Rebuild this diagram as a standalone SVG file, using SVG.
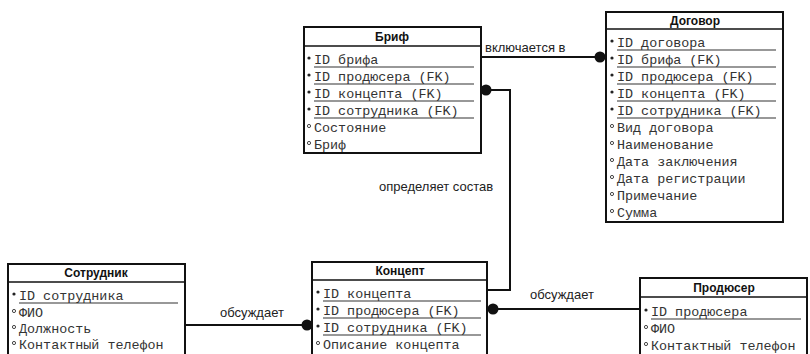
<svg xmlns="http://www.w3.org/2000/svg" width="810" height="354" viewBox="0 0 810 354">
<style>
.box{fill:#fff;stroke:#111;stroke-width:2}
.hd{stroke:#111;stroke-width:1.6}
.title{font-family:"Liberation Sans",Arial,sans-serif;font-weight:bold;font-size:12px;fill:#111;text-anchor:middle}
.row{font-family:"Liberation Mono","Courier New",monospace;font-size:13.4px;fill:#333}
.ul{stroke:#333;stroke-width:1.2}
.k{fill:#222}
.nk{fill:#fff;stroke:#333;stroke-width:0.9}
.lbl{font-family:"Liberation Sans",Arial,sans-serif;font-size:13px;fill:#222}
.ln{fill:none;stroke:#111;stroke-width:2}
.dot{fill:#111}
</style>

<g id="connectors">
  <path class="ln" d="M481,57 H606"/>
  <circle class="dot" cx="600" cy="57" r="5.5"/>
  <text class="lbl" x="485" y="52">включается в</text>

  <path class="ln" d="M481,90 H510 V290 H487"/>
  <circle class="dot" cx="486" cy="90" r="5.5"/>
  <text class="lbl" x="379" y="191">определяет состав</text>

  <path class="ln" d="M185,325 H312"/>
  <circle class="dot" cx="307" cy="325" r="5.5"/>
  <text class="lbl" x="220" y="317">обсуждает</text>

  <path class="ln" d="M487,309 H640"/>
  <circle class="dot" cx="493" cy="309" r="5.5"/>
  <text class="lbl" x="530" y="299">обсуждает</text>
</g>

<g id="brif">
  <rect class="box" x="304" y="27" width="177" height="126"/>
  <line class="hd" x1="304" y1="46" x2="481" y2="46"/>
  <text class="title" x="392" y="41">Бриф</text>
  <circle class="k" cx="309" cy="58" r="1.6"/><text class="row" x="314" y="64">ID брифа</text><line class="ul" x1="314" y1="67" x2="474" y2="67"/>
  <circle class="k" cx="309" cy="75" r="1.6"/><text class="row" x="314" y="81">ID продюсера (FK)</text><line class="ul" x1="314" y1="84" x2="474" y2="84"/>
  <circle class="k" cx="309" cy="92" r="1.6"/><text class="row" x="314" y="98">ID концепта (FK)</text><line class="ul" x1="314" y1="101" x2="474" y2="101"/>
  <circle class="k" cx="309" cy="109" r="1.6"/><text class="row" x="314" y="115">ID сотрудника (FK)</text><line class="ul" x1="314" y1="118" x2="474" y2="118"/>
  <circle class="nk" cx="309" cy="126" r="1.6"/><text class="row" x="314" y="132">Состояние</text>
  <circle class="nk" cx="309" cy="143" r="1.6"/><text class="row" x="314" y="149">Бриф</text>
</g>

<g id="dogovor">
  <rect class="box" x="606" y="12" width="177" height="210"/>
  <line class="hd" x1="606" y1="29" x2="783" y2="29"/>
  <text class="title" x="695" y="25">Договор</text>
  <circle class="k" cx="612" cy="41" r="1.6"/><text class="row" x="617" y="47">ID договора</text><line class="ul" x1="617" y1="50" x2="776" y2="50"/>
  <circle class="k" cx="612" cy="58" r="1.6"/><text class="row" x="617" y="64">ID брифа (FK)</text><line class="ul" x1="617" y1="67" x2="776" y2="67"/>
  <circle class="k" cx="612" cy="75" r="1.6"/><text class="row" x="617" y="81">ID продюсера (FK)</text><line class="ul" x1="617" y1="84" x2="776" y2="84"/>
  <circle class="k" cx="612" cy="92" r="1.6"/><text class="row" x="617" y="98">ID концепта (FK)</text><line class="ul" x1="617" y1="101" x2="776" y2="101"/>
  <circle class="k" cx="612" cy="109" r="1.6"/><text class="row" x="617" y="115">ID сотрудника (FK)</text><line class="ul" x1="617" y1="118" x2="776" y2="118"/>
  <circle class="nk" cx="612" cy="126" r="1.6"/><text class="row" x="617" y="132">Вид договора</text>
  <circle class="nk" cx="612" cy="143" r="1.6"/><text class="row" x="617" y="149">Наименование</text>
  <circle class="nk" cx="612" cy="160" r="1.6"/><text class="row" x="617" y="166">Дата заключения</text>
  <circle class="nk" cx="612" cy="177" r="1.6"/><text class="row" x="617" y="183">Дата регистрации</text>
  <circle class="nk" cx="612" cy="194" r="1.6"/><text class="row" x="617" y="200">Примечание</text>
  <circle class="nk" cx="612" cy="211" r="1.6"/><text class="row" x="617" y="217">Сумма</text>
</g>

<g id="sotrudnik">
  <rect class="box" x="8" y="264" width="177" height="100"/>
  <line class="hd" x1="8" y1="282" x2="185" y2="282"/>
  <text class="title" x="96" y="277">Сотрудник</text>
  <circle class="k" cx="14" cy="294" r="1.6"/><text class="row" x="19" y="300">ID сотрудника</text><line class="ul" x1="19" y1="303" x2="178" y2="303"/>
  <circle class="nk" cx="14" cy="311" r="1.6"/><text class="row" x="19" y="317">ФИО</text>
  <circle class="nk" cx="14" cy="327" r="1.6"/><text class="row" x="19" y="333">Должность</text>
  <circle class="nk" cx="14" cy="343" r="1.6"/><text class="row" x="19" y="349">Контактный телефон</text>
</g>

<g id="koncept">
  <rect class="box" x="312" y="262" width="175" height="100"/>
  <line class="hd" x1="312" y1="280" x2="487" y2="280"/>
  <text class="title" x="400" y="275">Концепт</text>
  <circle class="k" cx="318" cy="292" r="1.6"/><text class="row" x="323" y="298">ID концепта</text><line class="ul" x1="323" y1="301" x2="481" y2="301"/>
  <circle class="k" cx="318" cy="309" r="1.6"/><text class="row" x="323" y="315">ID продюсера (FK)</text><line class="ul" x1="323" y1="318" x2="481" y2="318"/>
  <circle class="k" cx="318" cy="326" r="1.6"/><text class="row" x="323" y="332">ID сотрудника (FK)</text><line class="ul" x1="323" y1="335" x2="481" y2="335"/>
  <circle class="nk" cx="318" cy="343" r="1.6"/><text class="row" x="323" y="349">Описание концепта</text>
</g>

<g id="prodyuser">
  <rect class="box" x="640" y="278" width="167" height="90"/>
  <line class="hd" x1="640" y1="297" x2="807" y2="297"/>
  <text class="title" x="724" y="292">Продюсер</text>
  <circle class="k" cx="646" cy="310" r="1.6"/><text class="row" x="651" y="316">ID продюсера</text><line class="ul" x1="651" y1="319" x2="801" y2="319"/>
  <circle class="nk" cx="646" cy="327" r="1.6"/><text class="row" x="651" y="333">ФИО</text>
  <circle class="nk" cx="646" cy="344" r="1.6"/><text class="row" x="651" y="350">Контактный телефон</text>
</g>
</svg>
